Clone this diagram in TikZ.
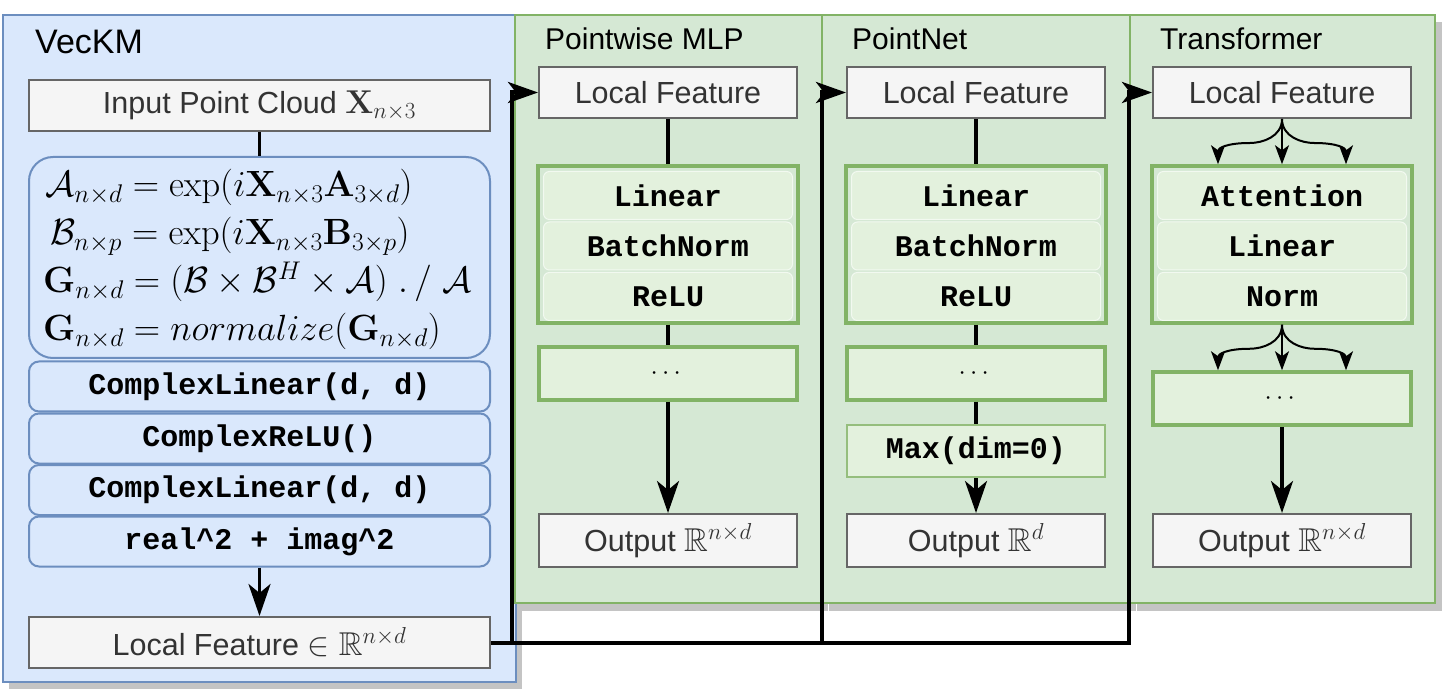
\RequirePackage{fix-cm}
\documentclass[tikz,border=0pt]{standalone}
\usepackage{amsmath,amssymb}
\usepackage[no-math]{fontspec}
\newfontfamily\sfF{Liberation Sans}
\newfontfamily\ttF{Liberation Mono}
\usetikzlibrary{arrows.meta,calc}
\newcommand{\mth}[1]{{\fontsize{33}{38}\selectfont$#1$}}
\definecolor{bluefill}{HTML}{DAE8FC}
\definecolor{blueline}{HTML}{6C8EBF}
\definecolor{greenfill}{HTML}{D5E8D4}
\definecolor{greenline}{HTML}{82B366}
\definecolor{lightg}{HTML}{E3F1DD}
\definecolor{boxfill}{HTML}{F5F5F5}
\definecolor{boxline}{HTML}{666666}
\definecolor{txt}{HTML}{333333}
\definecolor{shadowc}{HTML}{C4C4C4}
\tikzset{
  panelB/.style={fill=bluefill, draw=blueline, line width=2pt},
  panelG/.style={fill=greenfill, draw=greenline, line width=2pt},
  shad/.style={fill=shadowc, draw=none},
  title/.style={anchor=base west, inner sep=0pt, font=\sfF\fontsize{30}{35}\selectfont},
  greybox/.style={fill=boxfill, draw=boxline, line width=2pt, text=txt, inner sep=0pt,
    minimum width=258pt, minimum height=51pt, font=\sfF\fontsize{30.5}{35}\selectfont},
  browbox/.style={fill=bluefill, draw=blueline, line width=2pt, rounded corners=10pt, inner sep=0pt,
    minimum width=461pt, minimum height=50pt, font=\ttF\bfseries\fontsize{30}{36}\selectfont},
  stackbox/.style={fill=greenfill, draw=greenline, line width=3.5pt, inner sep=0pt,
    minimum width=260pt, minimum height=157pt},
  growbox/.style={fill=lightg, draw=white!55!lightg, line width=1pt, rounded corners=6pt, inner sep=0pt,
    minimum width=249pt, minimum height=48pt, font=\ttF\bfseries\fontsize{30}{36}\selectfont},
  dotsbox/.style={fill=lightg, draw=greenline, line width=3.5pt, inner sep=0pt,
    minimum width=258pt, minimum height=53pt, font=\fontsize{26}{30}\selectfont},
  maxbox/.style={fill=lightg, draw=greenline!85!white, line width=2pt, inner sep=0pt,
    minimum width=258pt, minimum height=52pt, font=\ttF\bfseries\fontsize{30}{36}\selectfont},
  formula/.style={anchor=base west, inner sep=0pt, font=\fontsize{36.5}{42}\selectfont},
  conn/.style={line width=4pt, line join=miter, -{Stealth[length=30pt,width=21pt,inset=8pt]}},
  plainline/.style={line width=3.5pt},
  flow/.style={line width=3.5pt, -{Stealth[length=32pt,width=22pt,inset=9pt]}},
  fork/.style={line width=2pt, -{Stealth[length=19pt,width=14pt,inset=5pt]}},
}
\begin{document}
\begin{tikzpicture}[x=1pt,y=-1pt]
\useasboundingbox (0,0) rectangle (1443,700);
% shadows
\fill[shad] (9,22) rectangle (522,689);
\fill[shad] (521,22) rectangle (828,611);
\fill[shad] (829,22) rectangle (1136,611);
\fill[shad] (1137,22) rectangle (1442,611);
% panels
\draw[panelB] (3,15) rectangle (516,682);
\draw[panelG] (515,15) rectangle (822,603);
\draw[panelG] (822,15) rectangle (1130,603);
\draw[panelG] (1130,15) rectangle (1435,603);
% titles
\node[title, font=\sfF\fontsize{34}{38}\selectfont] (tV) at (35,54) {VecKM};
\node[title] (tM) at (545,50) {Pointwise MLP};
\node[title] (tP) at (852,50) {PointNet};
\node[title] (tT) at (1160,50) {Transformer};
% VecKM column
\node[greybox, minimum width=461pt] (inp) at (259.5,105.5) {Input Point Cloud \mth{\mathbf{X}_{n\times 3}}};
\node[fill=bluefill, draw=blueline, line width=2pt, rounded corners=24pt, inner sep=0pt,
      minimum width=461pt, minimum height=201pt] (form) at (259.5,257.5) {};
\node[formula] (f1) at (45,197) {$\mathcal{A}_{n\times d}=\exp(i\mathbf{X}_{n\times 3}\mathbf{A}_{3\times d})$};
\node[formula] (f2) at (50,245) {$\mathcal{B}_{n\times p}=\exp(i\mathbf{X}_{n\times 3}\mathbf{B}_{3\times p})$};
\node[formula] (f3) at (43,293) {$\mathbf{G}_{n\times d}=(\mathcal{B}\times\mathcal{B}^{H}\times\mathcal{A})\;.\,/\;\mathcal{A}$};
\node[formula] (f4) at (43,341) {$\mathbf{G}_{n\times d}=normalize(\mathbf{G}_{n\times d})$};
\node[browbox] (r1) at (259.5,386.5) {ComplexLinear(d, d)};
\node[browbox] (r2) at (259.5,438.5) {ComplexReLU()};
\node[browbox] (r3) at (259.5,490) {ComplexLinear(d, d)};
\node[browbox] (r4) at (259.5,541.5) {real\textasciicircum 2 + imag\textasciicircum 2};
\node[greybox, minimum width=461pt] (vlf) at (259.5,642.5) {Local Feature \mth{\in\mathbb{R}^{n\times d}}};
\draw[plainline] (inp.south) -- (form.north);
\draw[flow] (r4.south) -- (vlf.north);
% Pointwise MLP
\node[greybox] (lf1) at (668,92.5) {Local Feature};
\node[stackbox] (st1) at (668,244.5) {};
\node[growbox] (a1) at (668,195.5) {Linear};
\node[growbox] (b1) at (668,246) {BatchNorm};
\node[growbox] (c1) at (668,296.5) {ReLU};
\node[dotsbox] (d1) at (668,373.5) {$\cdots$};
\node[greybox, minimum height=53pt] (o1) at (668,540.5) {Output \mth{\mathbb{R}^{n\times d}}};
\draw[plainline] (lf1.south) -- (st1.north);
\draw[plainline] (st1.south) -- (d1.north);
\draw[flow] (d1.south) -- (o1.north);
% PointNet
\node[greybox] (lf2) at (976,92.5) {Local Feature};
\node[stackbox] (st2) at (976,244.5) {};
\node[growbox] (a2) at (976,195.5) {Linear};
\node[growbox] (b2) at (976,246) {BatchNorm};
\node[growbox] (c2) at (976,296.5) {ReLU};
\node[dotsbox] (d2) at (976,373.5) {$\cdots$};
\node[maxbox] (mx) at (976,451) {Max(dim=0)};
\node[greybox, minimum height=53pt] (o2) at (976,540.5) {Output \mth{\mathbb{R}^{d}}};
\draw[plainline] (lf2.south) -- (st2.north);
\draw[plainline] (st2.south) -- (d2.north);
\draw[plainline] (d2.south) -- (mx.north);
\draw[flow] (mx.south) -- (o2.north);
% Transformer
\node[greybox] (lf3) at (1282,92.5) {Local Feature};
\node[stackbox] (st3) at (1282,244.5) {};
\node[growbox] (a3) at (1282,195.5) {Attention};
\node[growbox] (b3) at (1282,246) {Linear};
\node[growbox] (c3) at (1282,296.5) {Norm};
\node[dotsbox] (d3) at (1282,398.5) {$\cdots$};
\node[greybox, minimum height=53pt] (o3) at (1282,540.5) {Output \mth{\mathbb{R}^{n\times d}}};
\coordinate (xl) at (1218,0);
\coordinate (xr) at (1346,0);
\coordinate (k1l) at ($(lf3.south)+(-32,24)$);
\coordinate (k1r) at ($(lf3.south)+(32,24)$);
\coordinate (k2l) at ($(st3.south)+(-32,24)$);
\coordinate (k2r) at ($(st3.south)+(32,24)$);
\draw[fork] (lf3.south) -- (st3.north);
\draw[fork] (lf3.south) .. controls +(0,18) and +(12,0) .. (k1l)
   .. controls +(-24,0) and +(0,-16) .. (st3.north -| xl);
\draw[fork] (lf3.south) .. controls +(0,18) and +(-12,0) .. (k1r)
   .. controls +(24,0) and +(0,-16) .. (st3.north -| xr);
\draw[fork] (st3.south) -- (d3.north);
\draw[fork] (st3.south) .. controls +(0,18) and +(12,0) .. (k2l)
   .. controls +(-24,0) and +(0,-16) .. (d3.north -| xl);
\draw[fork] (st3.south) .. controls +(0,18) and +(-12,0) .. (k2r)
   .. controls +(24,0) and +(0,-16) .. (d3.north -| xr);
\draw[flow] (d3.south) -- (o3.north);
% connectors from VecKM local feature
\coordinate (j1) at (512,0);
\coordinate (j2) at (822,0);
\coordinate (j3) at (1129,0);
\draw[conn] (vlf.east) -- (vlf.east -| j1) -- (j1 |- lf1.west) -- (lf1.west);
\draw[conn] (vlf.east) -- (vlf.east -| j2) -- (j2 |- lf2.west) -- (lf2.west);
\draw[conn] (vlf.east) -- (vlf.east -| j3) -- (j3 |- lf3.west) -- (lf3.west);
\end{tikzpicture}
\end{document}
